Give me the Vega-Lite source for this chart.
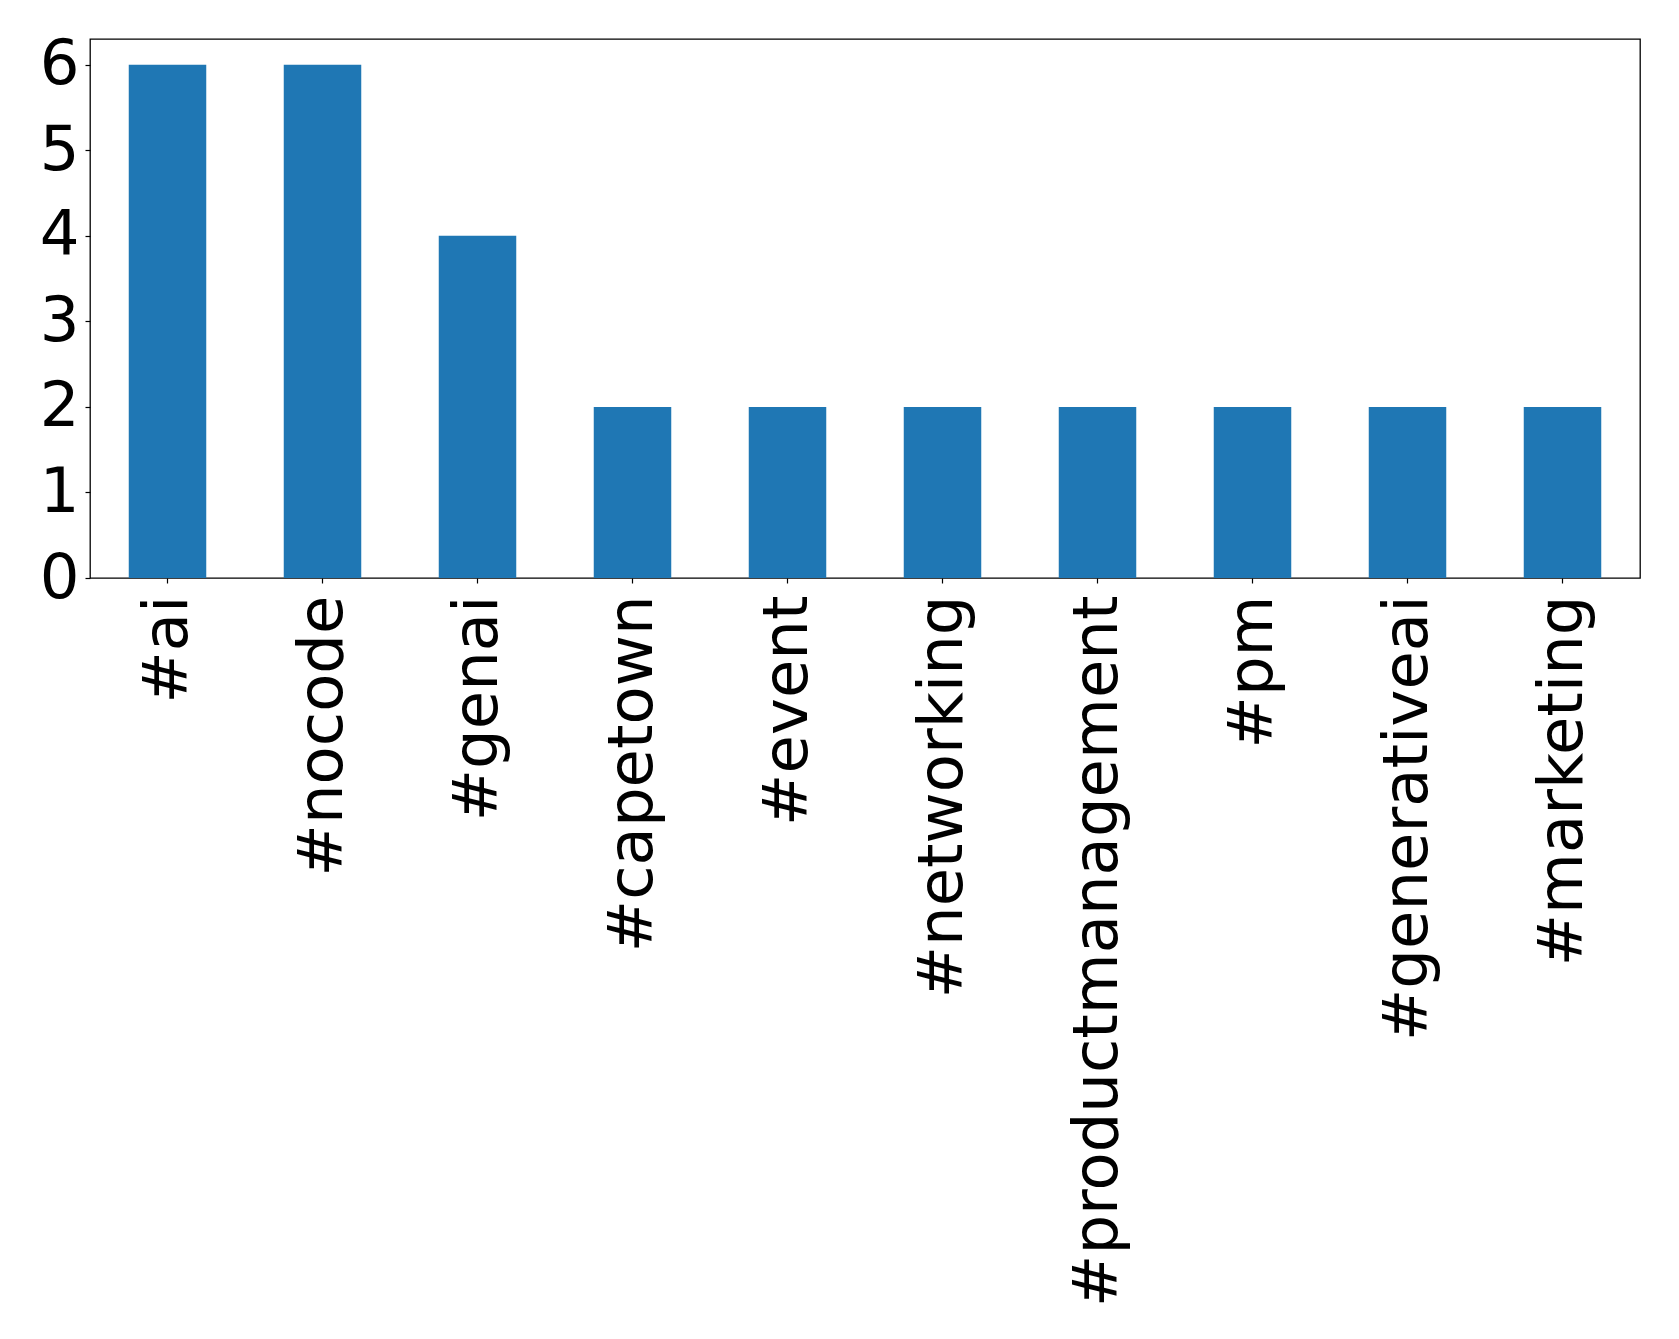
{
  "$schema": "https://vega.github.io/schema/vega-lite/v6.json",
  "autosize": {"type": "none"},
  "padding": {"left": 90, "top": 39, "right": 39, "bottom": 761},
  "width": 1550,
  "height": 539,
  "background": "white",
  "config": {
    "view": {"stroke": "black", "strokeWidth": 1.3},
    "font": "DejaVu Sans",
    "axis": {
      "labelFont": "DejaVu Sans",
      "labelFontSize": 62.5,
      "labelColor": "black",
      "tickColor": "black",
      "domainColor": "black",
      "tickSize": 5,
      "tickWidth": 1.2,
      "grid": false,
      "title": null
    }
  },
  "data": {
    "values": [
      {"tag": "#ai", "count": 6},
      {"tag": "#nocode", "count": 6},
      {"tag": "#genai", "count": 4},
      {"tag": "#capetown", "count": 2},
      {"tag": "#event", "count": 2},
      {"tag": "#networking", "count": 2},
      {"tag": "#productmanagement", "count": 2},
      {"tag": "#pm", "count": 2},
      {"tag": "#generativeai", "count": 2},
      {"tag": "#marketing", "count": 2}
    ]
  },
  "mark": {"type": "bar", "color": "#1f77b4"},
  "encoding": {
    "x": {
      "field": "tag",
      "type": "nominal",
      "sort": null,
      "scale": {"paddingInner": 0.5, "paddingOuter": 0.25},
      "axis": {"labelAngle": 270, "labelPadding": 12, "domain": false, "labelLimit": 0}
    },
    "y": {
      "field": "count",
      "type": "quantitative",
      "scale": {"domain": [0, 6.3], "nice": false},
      "axis": {"values": [0, 1, 2, 3, 4, 5, 6], "labelPadding": 6, "domain": false, "format": "d"}
    }
  }
}
